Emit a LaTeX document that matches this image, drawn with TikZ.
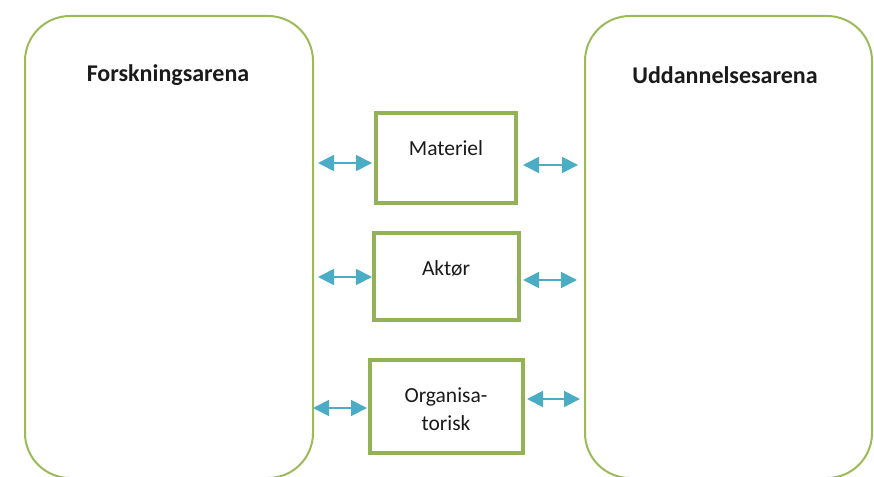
\documentclass[tikz,border=0pt]{standalone}
\usepackage{fontspec}
\setmainfont{Carlito}
\usetikzlibrary{arrows.meta}
\definecolor{boxgreen}{HTML}{9BBB59}
\definecolor{arrblue}{HTML}{4BACC6}
\definecolor{txt}{HTML}{1A1A1A}
\tikzset{
  arena/.style={draw=boxgreen, line width=2pt, rounded corners=45pt, inner sep=0pt},
  midbox/.style={draw=boxgreen!95!black, line width=3.5pt, inner sep=0pt},
  title/.style={font=\fontsize{24}{28}\selectfont\bfseries, text=txt},
  lbl/.style={font=\fontsize{21.5}{28}\selectfont, text=txt, align=center},
  arr/.style={draw=arrblue, line width=1.8pt, {Triangle[length=16pt,width=16pt]}-{Triangle[length=16pt,width=16pt]}}
}
\begin{document}
\begin{tikzpicture}[x=1pt,y=-1pt]
\useasboundingbox (0,0) rectangle (874,476);
\clip (0,0) rectangle (874,476);
\node[arena, minimum width=288pt, minimum height=462pt] (forsk) at (169,247) {};
\node[arena, minimum width=287pt, minimum height=462pt] (udd) at (728.5,247) {};
\node[title] (forskt) at (168,75) {Forskningsarena};
\node[title] (uddt) at (725,75) {Uddannelsesarena};

\node[midbox, minimum width=140pt, minimum height=90pt] (mat) at (446,158) {};
\node[lbl] (matt) at (446,148) {Materiel};
\node[midbox, minimum width=145pt, minimum height=87pt] (akt) at (446.5,276.5) {};
\node[lbl] (aktt) at (446,268) {Aktør};
\node[midbox, minimum width=153pt, minimum height=93pt] (org) at (446.5,406.5) {};
\node[lbl] (orgt) at (446,409) {Organisa-\\torisk};

\coordinate (m1) at (318,163); \coordinate (m2) at (372,163);
\coordinate (m3) at (523,165); \coordinate (m4) at (578,165);
\coordinate (a1) at (318,277); \coordinate (a2) at (372,277);
\coordinate (a3) at (523,280); \coordinate (a4) at (577,280);
\coordinate (o1) at (313,408); \coordinate (o2) at (367,408);
\coordinate (o3) at (527,399); \coordinate (o4) at (580,399);
\draw[arr] (m1) -- (m2);
\draw[arr] (m3) -- (m4);
\draw[arr] (a1) -- (a2);
\draw[arr] (a3) -- (a4);
\draw[arr] (o1) -- (o2);
\draw[arr] (o3) -- (o4);
\end{tikzpicture}
\end{document}
